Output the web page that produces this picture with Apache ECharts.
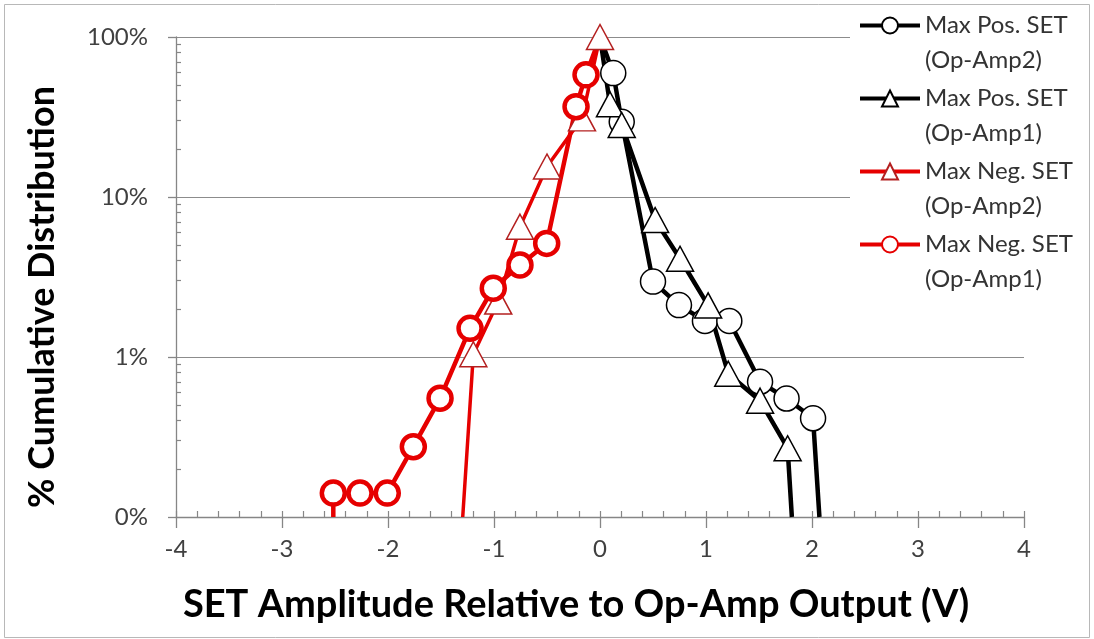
<!DOCTYPE html>
<html><head><meta charset="utf-8">
<script src="https://cdn.jsdelivr.net/npm/echarts@6/dist/echarts.min.js"></script>
<style>html,body{margin:0;padding:0;background:#fff}#c{width:1094px;height:639px}</style>
</head><body><div id="c"></div>
<script>
// ---- data (x: SET amplitude in V, y: cumulative distribution in %; 0 = 0%, drawn at the axis floor) ----
const seriesNames = ['Max Pos. SET\n(Op-Amp2)', 'Max Pos. SET\n(Op-Amp1)', 'Max Neg. SET\n(Op-Amp2)', 'Max Neg. SET\n(Op-Amp1)'];
const posAmp2X = [0, 0.125, 0.205, 0.50, 0.745, 0.99, 1.22, 1.51, 1.76, 2.01, 2.07];
const posAmp2Y = [100, 59.5, 29.5, 2.96, 2.11, 1.68, 1.68, 0.70, 0.55, 0.414, 0];
const posAmp1X = [0, 0.094, 0.205, 0.52, 0.755, 1.02, 1.21, 1.51, 1.77, 1.81];
const posAmp1Y = [100, 38, 28.2, 7.18, 4.11, 2.10, 0.786, 0.533, 0.269, 0];
const negAmp2X = [0, -0.17, -0.50, -0.755, -0.96, -1.195, -1.295];
const negAmp2Y = [100, 31, 15.5, 6.52, 2.22, 1.04, 0];
const negAmp1X = [-2.516, -2.516, -2.264, -2.007, -1.761, -1.509, -1.226, -1.007, -0.755, -0.503, -0.226, -0.132, 0];
const negAmp1Y = [0, 0.141, 0.141, 0.141, 0.275, 0.552, 1.51, 2.69, 3.76, 5.13, 36.7, 58, 100];
const yTickValues = [100, 10, 1, 0.1];
const yTickLabels = ['100%', '10%', '1%', '0%'];
const xTitle = 'SET Amplitude Relative to Op-Amp Output (V)';
const yTitle = '% Cumulative Distribution';

// ---- styling ----
const Y_MIN = 0.1, Y_MAX = 100;
const RED = '#e60000';
const styles = [
  { symbol: 'circle', size: 25, line: { color: '#000', width: 4.5 }, item: { color: '#fff', borderColor: '#000', borderWidth: 1.5 }, noMarker: [0, 10] },
  { symbol: 'triangle', size: [27, 25], line: { color: '#000', width: 4.5 }, item: { color: '#fff', borderColor: '#000', borderWidth: 1.5 }, noMarker: [0, 9] },
  { symbol: 'triangle', size: [27, 25], line: { color: RED, width: 3.5 }, item: { color: '#fff', borderColor: '#b42020', borderWidth: 1.5 }, noMarker: [6] },
  { symbol: 'circle', size: 23, line: { color: RED, width: 4.5 }, item: { color: '#fff', borderColor: RED, borderWidth: 4.5 }, noMarker: [0, 12] }
];
const xs = [posAmp2X, posAmp1X, negAmp2X, negAmp1X];
const ys = [posAmp2Y, posAmp1Y, negAmp2Y, negAmp1Y];

const minorY = [];
[0.1, 1, 10].forEach(d => { for (let k = 2; k <= 9; k++) minorY.push(+(d * k).toPrecision(3)); });

const series = seriesNames.map((name, i) => ({
  name, type: 'line', xAxisIndex: 0, yAxisIndex: 0,
  symbol: styles[i].symbol, symbolSize: styles[i].size,
  showAllSymbol: true, clip: true, animation: false,
  lineStyle: styles[i].line, itemStyle: styles[i].item,
  emphasis: { disabled: true },
  data: xs[i].map((x, j) => {
    const y = ys[i][j] <= 0 ? Y_MIN : ys[i][j];
    return styles[i].noMarker.includes(j) ? { value: [x, y], symbol: 'none' } : [x, y];
  })
}));

const axisCol = '#868686';
const font = 'Lato, "Noto Sans", sans-serif';
const chart = echarts.init(document.getElementById('c'), null, { renderer: 'canvas' });
chart.setOption({
  animation: false,
  backgroundColor: '#fff',
  grid: { left: 176, right: 70, top: 37, bottom: 122, containLabel: false },
  xAxis: [
    { type: 'value', min: -4, max: 4, interval: 1, position: 'bottom',
      axisLine: { show: true, onZero: false, lineStyle: { color: axisCol, width: 1.3 } },
      axisTick: { show: true, length: 11, lineStyle: { color: axisCol, width: 1.3 } },
      axisLabel: { fontFamily: font, fontSize: 24, color: '#404040', margin: 20 },
      splitLine: { show: false },
      name: xTitle, nameLocation: 'middle', nameGap: 69,
      nameTextStyle: { fontFamily: font, fontWeight: 'bold', fontSize: 38, color: '#000', padding: [0, 48, 0, 0] } },
    { type: 'value', min: -4, max: 4, interval: 0.2, position: 'bottom', offset: 0,
      axisLine: { show: false, onZero: false }, axisLabel: { show: false }, splitLine: { show: false },
      axisTick: { show: true, inside: true, length: 6, lineStyle: { color: axisCol, width: 1.2 } } }
  ],
  yAxis: [
    { type: 'log', logBase: 10, min: Y_MIN, max: Y_MAX, position: 'left',
      axisLine: { show: true, onZero: false, lineStyle: { color: axisCol, width: 1.3 } },
      axisTick: { show: true, length: 8, lineStyle: { color: axisCol, width: 1.3 } },
      axisLabel: { fontFamily: font, fontSize: 24, color: '#404040', margin: 28,
        formatter: v => { const k = yTickValues.findIndex(t => Math.abs(t - v) / t < 1e-6); return k >= 0 ? yTickLabels[k] : ''; } },
      splitLine: { show: true, lineStyle: { color: '#8c8c8c', width: 1.2 } },
      name: yTitle, nameLocation: 'middle', nameGap: 116,
      nameTextStyle: { fontFamily: font, fontWeight: 'bold', fontSize: 36, color: '#000', padding: [0, 40, 0, 0] } },
    { type: 'log', logBase: 10, min: Y_MIN, max: Y_MAX, position: 'left', offset: 0,
      axisLine: { show: false, onZero: false }, axisLabel: { show: false }, splitLine: { show: false },
      axisTick: { show: true, inside: true, length: 5, customValues: minorY, lineStyle: { color: axisCol, width: 1.2 } } }
  ],
  legend: {
    orient: 'vertical', left: 850, top: -27,
    padding: [0, 10, 8, 8], backgroundColor: '#fff',
    itemWidth: 60, itemHeight: 20, itemGap: -32,
    selectedMode: false,
    formatter: name => '\n' + name,
    lineStyle: { width: 4 },
    textStyle: { fontFamily: font, fontSize: 24, color: '#333', lineHeight: 35 },
    data: seriesNames
  },
  graphic: [{ type: 'rect', z: 100, silent: true,
    shape: { x: 4.5, y: 4.5, width: 1085, height: 633 },
    style: { fill: 'none', stroke: '#b8b8b8', lineWidth: 1 } }],
  series
});
</script></body></html>
